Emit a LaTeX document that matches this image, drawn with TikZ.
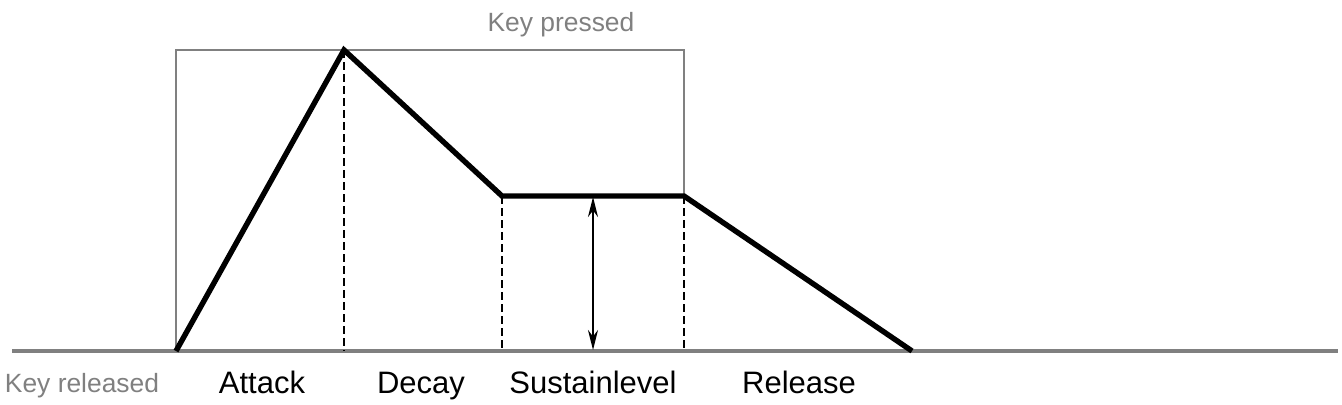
\documentclass[tikz,border=0pt]{standalone}
\usepackage{fontspec}
\setmainfont{Liberation Sans}
\usetikzlibrary{arrows.meta}
\begin{document}
\begin{tikzpicture}[>={Stealth[length=10pt, width=5pt]}, x=0.5pt, y=-0.5pt,
  keytext/.style={text=gray, anchor=base, font=\fontsize{13.2}{15}\selectfont},
  phasetext/.style={anchor=base, font=\fontsize{15.5}{18}\selectfont},
  envline/.style={line width=2.7pt, line join=miter},
  border/.style={dash pattern=on 4pt off 2pt, line width=1.1pt}]
  \useasboundingbox (0,0) rectangle (1342,404);
  % Points of the envelope
  \coordinate (start) at (176,351);
  \coordinate (peak) at (344,50);
  \coordinate (dec) at (502,196);
  \coordinate (rel) at (684,196);
  \coordinate (stop) at (912,351);
  \coordinate (peakfoot) at (344,351);
  \coordinate (decfoot) at (502,351);
  \coordinate (relfoot) at (684,351);
  \coordinate (lvltop) at (593,197);
  \coordinate (lvlfoot) at (593,350);
  % Key pressed box
  \draw[gray, line width=1pt] (start) -- (start |- peak) -- (rel |- peak) -- (rel);
  \node[keytext] (pressed) at (561,31) {Key pressed};
  % Baseline
  \draw[gray, line width=2pt] (12,351) -- (1338,351);
  % Envelope
  \draw[envline] (start) -- (peak) -- (dec) -- (rel) -- (stop);
  % Phase borders
  \draw[border] (peak) -- (peakfoot);
  \draw[border] (dec) -- (decfoot);
  \draw[border] (rel) -- (relfoot);
  % Sustain level
  \draw[<->, line width=1.1pt] (lvltop) -- (lvlfoot);
  % Labels
  \node[keytext] (released) at (82,392) {Key released};
  \node[phasetext] (attack) at (262,393) {Attack};
  \node[phasetext] (decay) at (421,393) {Decay};
  \node[phasetext] (sustain) at (593,393) {Sustainlevel};
  \node[phasetext] (release) at (799,393) {Release};
\end{tikzpicture}
\end{document}
